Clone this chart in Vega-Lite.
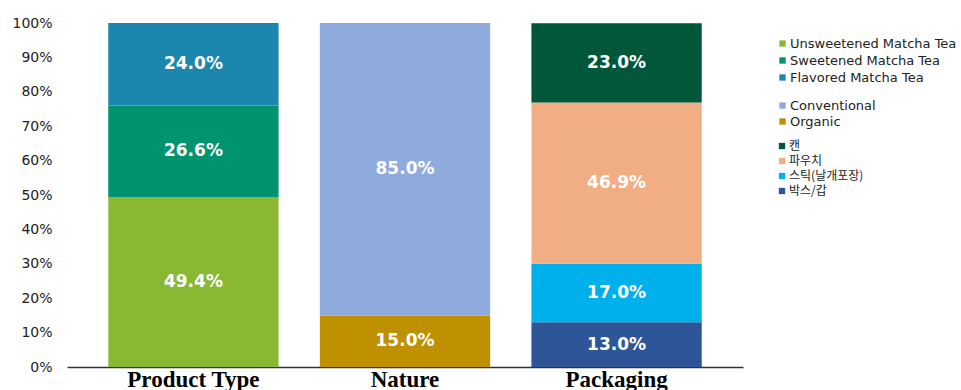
{
  "$schema": "https://vega.github.io/schema/vega-lite/v6.json",
  "width": 676,
  "height": 344,
  "autosize": {"type": "none"},
  "padding": {"left": 67, "top": 23, "right": 218, "bottom": 23},
  "background": "white",
  "config": {
    "view": {"stroke": null},
    "legend": {"padding": 0, "title": null},
    "axis": {"labelOverlap": false, "labelSeparation": 0, "labelBound": false},
    "axisQuantitative": {"labelOverlap": false, "tickCount": 10},
    "axisY": {
      "title": null, "domain": false, "ticks": false, "grid": false,
      "labelOverlap": false, "tickCount": 10,
      "format": ".0%", "labelFont": "DejaVu Sans", "labelFontSize": 14,
      "labelColor": "#222222", "labelPadding": 15
    }
  },
  "data": {
    "values": [
      {"category": "Product Type", "series": "Unsweetened Matcha Tea", "value": 0.494, "ord": 1},
      {"category": "Product Type", "series": "Sweetened Matcha Tea", "value": 0.266, "ord": 2},
      {"category": "Product Type", "series": "Flavored Matcha Tea", "value": 0.240, "ord": 3},
      {"category": "Nature", "series": "Organic", "value": 0.150, "ord": 1},
      {"category": "Nature", "series": "Conventional", "value": 0.850, "ord": 2},
      {"category": "Packaging", "series": "박스/갑", "value": 0.130, "ord": 1},
      {"category": "Packaging", "series": "스틱(날개포장)", "value": 0.170, "ord": 2},
      {"category": "Packaging", "series": "파우치", "value": 0.469, "ord": 3},
      {"category": "Packaging", "series": "캔", "value": 0.230, "ord": 4}
    ]
  },
  "encoding": {
    "x": {
      "field": "category",
      "type": "nominal",
      "sort": ["Product Type", "Nature", "Packaging"],
      "scale": {"domain": ["Product Type", "Nature", "Packaging"], "paddingInner": 0.195, "paddingOuter": 0.195},
      "axis": {
        "title": null,
        "labelAngle": 0,
        "domain": true,
        "domainColor": "#333333",
        "domainWidth": 1.5,
        "ticks": false,
        "grid": false,
        "labelFont": "Liberation Serif",
        "labelFontWeight": "bold",
        "labelFontSize": 23,
        "labelColor": "#000000",
        "labelBaseline": "alphabetic",
        "labelPadding": 19
      }
    }
  },
  "resolve": {"scale": {"color": "independent"}},
  "layer": [
    {
      "transform": [{"filter": "datum.category === 'Product Type'"}],
      "mark": {"type": "bar"},
      "encoding": {
        "y": {
          "field": "value", "type": "quantitative", "stack": "zero",
          "scale": {"domain": [0, 1]},
          "axis": {"title": null, "tickCount": 10, "labelOverlap": false}
        },
        "order": {"field": "ord", "type": "quantitative"},
        "color": {
          "field": "series", "type": "nominal",
          "scale": {
            "domain": ["Unsweetened Matcha Tea", "Sweetened Matcha Tea", "Flavored Matcha Tea"],
            "range": ["#8AB833", "#009370", "#1B87AE"]
          },
          "legend": {
            "orient": "none", "legendX": 709, "legendY": 14, "title": null,
            "symbolType": "square", "symbolSize": 40, "symbolStrokeWidth": 0,
            "labelFont": "DejaVu Sans", "labelFontSize": 13, "labelColor": "#222222",
            "labelOffset": 1, "rowPadding": 3, "symbolOffset": 0, "labelLimit": 400
          }
        }
      }
    },
    {
      "transform": [{"filter": "datum.category === 'Nature'"}],
      "mark": {"type": "bar"},
      "encoding": {
        "y": {
          "field": "value", "type": "quantitative", "stack": "zero",
          "scale": {"domain": [0, 1]},
          "axis": {"title": null, "tickCount": 10, "labelOverlap": false}
        },
        "order": {"field": "ord", "type": "quantitative"},
        "color": {
          "field": "series", "type": "nominal",
          "scale": {
            "domain": ["Conventional", "Organic"],
            "range": ["#8FAADC", "#BF9000"]
          },
          "legend": {
            "orient": "none", "legendX": 709, "legendY": 76, "title": null,
            "symbolType": "square", "symbolSize": 40, "symbolStrokeWidth": 0,
            "labelFont": "DejaVu Sans", "labelFontSize": 13, "labelColor": "#222222",
            "labelOffset": 1, "rowPadding": 2, "symbolOffset": 0, "labelLimit": 400
          }
        }
      }
    },
    {
      "transform": [{"filter": "datum.category === 'Packaging'"}],
      "mark": {"type": "bar"},
      "encoding": {
        "y": {
          "field": "value", "type": "quantitative", "stack": "zero",
          "scale": {"domain": [0, 1]},
          "axis": {"title": null, "tickCount": 10, "labelOverlap": false}
        },
        "order": {"field": "ord", "type": "quantitative"},
        "color": {
          "field": "series", "type": "nominal",
          "scale": {
            "domain": ["캔", "파우치", "스틱(날개포장)", "박스/갑"],
            "range": ["#00573A", "#F1AE85", "#00B0EC", "#2E5597"]
          },
          "legend": {
            "orient": "none", "legendX": 709, "legendY": 117, "title": null,
            "symbolType": "square", "symbolSize": 40, "symbolStrokeWidth": 0,
            "labelFont": "Noto Sans CJK KR", "labelFontSize": 12, "labelColor": "#222222",
            "labelOffset": 1, "rowPadding": 3, "symbolOffset": 0, "labelLimit": 400
          }
        }
      }
    },
    {
      "transform": [
        {"stack": "value", "groupby": ["category"], "sort": [{"field": "ord", "order": "ascending"}], "as": ["y0", "y1"]},
        {"calculate": "(datum.y0 + datum.y1) / 2", "as": "mid"}
      ],
      "mark": {"type": "text", "color": "white", "font": "DejaVu Sans", "fontWeight": "bold", "fontSize": 17, "baseline": "middle", "align": "center"},
      "encoding": {
        "y": {
          "field": "mid", "type": "quantitative", "stack": null,
          "scale": {"domain": [0, 1]},
          "axis": {"title": null, "tickCount": 10, "labelOverlap": false}
        },
        "text": {"field": "value", "type": "quantitative", "format": ".1%"}
      }
    }
  ]
}
